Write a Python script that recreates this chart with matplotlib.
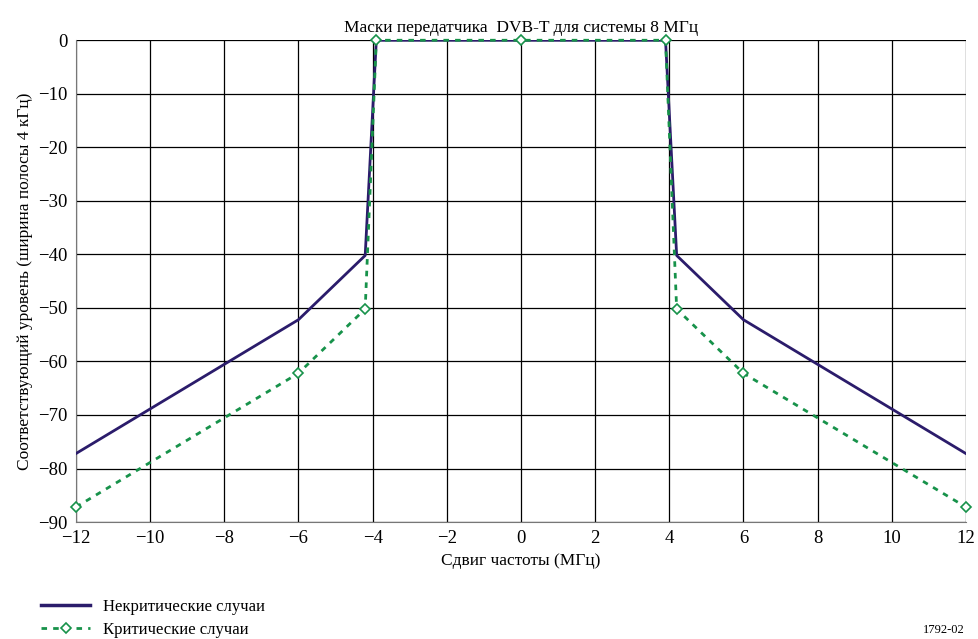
import matplotlib
matplotlib.use('Agg')
import matplotlib.pyplot as plt
from matplotlib.lines import Line2D

plt.rcParams['font.family'] = ['Liberation Serif', 'DejaVu Serif']

# Non-critical mask (relative level, dB in 4 kHz)
freq_noncrit = [-12, -6, -4.2, -3.9, 3.9, 4.2, 6, 12]
level_noncrit = [-77.2, -52.2, -40.2, 0, 0, -40.2, -52.2, -77.2]

# Critical mask
freq_crit = [-12, -6, -4.2, -3.9, 0, 3.9, 4.2, 6, 12]
level_crit = [-87.2, -62.2, -50.2, 0, 0, 0, -50.2, -62.2, -87.2]

navy = '#2b1c6b'
green = '#17924a'

fig = plt.figure(figsize=(9.79, 6.39), dpi=100)
ax = fig.add_axes([0.0776, 0.183, 0.909, 0.754])

ax.plot(freq_noncrit, level_noncrit, color=navy, lw=2, zorder=3)
ax.plot(freq_crit, level_crit, color=green, lw=2, ls=(0, (2, 2.2)),
        marker='D', ms=5, mfc='white', mec=green, mew=1.2, zorder=4, clip_on=False)

ax.set_xlim(-12, 12)
ax.set_ylim(-90, 0)
ax.set_xticks(range(-12, 13, 2))
ax.set_yticks(range(-90, 1, 10))
ax.grid(True, color='black', lw=0.9)
for s in ['top', 'right']:
    ax.spines[s].set_visible(False)
for s in ['left', 'bottom']:
    ax.spines[s].set_color('#777777')
ax.tick_params(length=0, labelsize=13.5, pad=6)

ax.set_title('Маски передатчика  DVB-T для системы 8 МГц', fontsize=12.5, pad=6)
ax.set_xlabel('Сдвиг частоты (МГц)', fontsize=12.5, labelpad=4)
ax.set_ylabel('Соответствующий уровень (ширина полосы 4 кГц)', fontsize=12.5, labelpad=4)

# legend drawn below the chart
handles = [Line2D([], [], color=navy, lw=2.5),
           Line2D([], [], color=green, lw=2, ls=(0, (2, 2.2)), marker='D', ms=5,
                  mfc='white', mec=green, mew=1.2)]
fig.legend(handles, ['Некритические случаи', 'Критические случаи'],
           loc='lower left', bbox_to_anchor=(0.027, -0.022), frameon=False,
           fontsize=12, handlelength=2.9, handletextpad=0.8, labelspacing=0.45)

fig.text(0.985, 0.005, '1792-02', ha='right', va='bottom', fontsize=9)

fig.savefig('out.png', dpi=100)
